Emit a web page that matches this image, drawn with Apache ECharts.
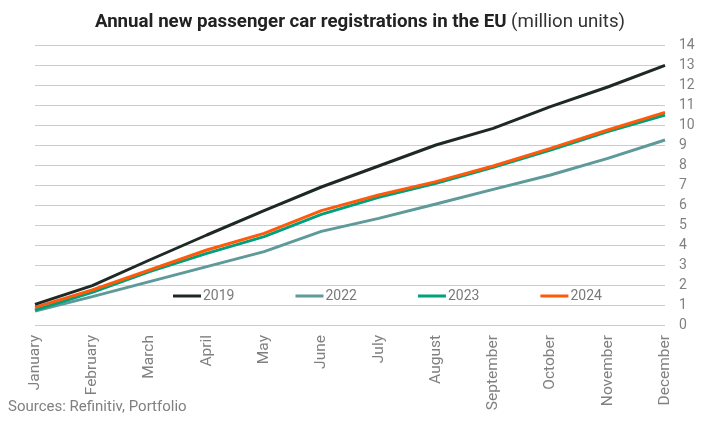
<!DOCTYPE html>
<html>
<head>
<meta charset="utf-8">
<script src="https://cdn.jsdelivr.net/npm/echarts@6/dist/echarts.min.js"></script>
<style>
  html, body { margin: 0; padding: 0; background: #fff; }
  #chart { width: 720px; height: 421px; }
</style>
</head>
<body>
<div id="chart"></div>
<script>
// Data
var months = ['January', 'February', 'March', 'April', 'May', 'June', 'July',
    'August', 'September', 'October', 'November', 'December'];
var y2019 = [1.03, 1.97, 3.25, 4.5, 5.72, 6.9, 7.95, 9.0, 9.83, 10.92, 11.9, 12.98];
var y2022 = [0.7, 1.42, 2.17, 2.92, 3.67, 4.68, 5.33, 6.05, 6.78, 7.5, 8.33, 9.25];
var y2023 = [0.75, 1.63, 2.67, 3.58, 4.42, 5.53, 6.38, 7.08, 7.88, 8.75, 9.67, 10.5];
var y2024 = [0.88, 1.75, 2.75, 3.75, 4.58, 5.72, 6.5, 7.17, 7.95, 8.83, 9.75, 10.63];

var chart = echarts.init(document.getElementById('chart'), null, { renderer: 'canvas' });

var lineSeries = function(name, data, color, z) {
    return {
        name: name,
        type: 'line',
        data: data,
        symbol: 'none',
        z: z,
        lineStyle: { color: color, width: 3 },
        itemStyle: { color: color }
    };
};

chart.setOption({
    animation: false,
    textStyle: { fontFamily: 'Roboto' },

    // Title
    title: {
        text: '{b|Annual new passenger car registrations in the EU} {n|(million units)}',
        left: 'center',
        top: 8,
        textStyle: {
            rich: {
                b: { fontFamily: 'Roboto', fontSize: 18.7, fontWeight: 'bold', color: '#222' },
                n: { fontFamily: 'Roboto', fontSize: 18.7, fontWeight: 'normal', color: '#333' }
            }
        }
    },

    // Legend
    legend: {
        left: 173,
        top: 289,
        padding: 0,
        icon: 'rect',
        itemWidth: 28,
        itemHeight: 3,
        itemGap: 61,
        selectedMode: false,
        textStyle: { color: '#7a7a7a', fontSize: 14, padding: [0, 0, 0, -3] },
        data: ['2019', '2022', '2023', '2024']
    },

    grid: { left: 35, right: 55, top: 45, bottom: 96 },

    xAxis: {
        type: 'category',
        data: months,
        boundaryGap: false,
        axisLine: { show: false },
        axisTick: { show: false },
        axisLabel: { rotate: 90, color: '#808080', fontSize: 15.5, margin: 10, interval: 0 }
    },

    yAxis: {
        type: 'value',
        position: 'right',
        min: 0,
        max: 14,
        interval: 1,
        axisLine: { show: false },
        axisTick: { show: false },
        axisLabel: { color: '#808080', fontSize: 14, margin: 14 },
        splitLine: { lineStyle: { color: '#cccccc', width: 1 } }
    },

    // Sources
    graphic: [{
        type: 'text',
        left: 8,
        top: 400,
        style: { text: 'Sources: Refinitiv, Portfolio', fill: '#808080', fontSize: 15, fontFamily: 'Roboto' }
    }],

    series: [
        lineSeries('2019', y2019, '#1e2825', 5),
        lineSeries('2022', y2022, '#5e9a9a', 2),
        lineSeries('2023', y2023, '#00a07c', 3),
        lineSeries('2024', y2024, '#ff5a0a', 4)
    ]
});
</script>
</body>
</html>
